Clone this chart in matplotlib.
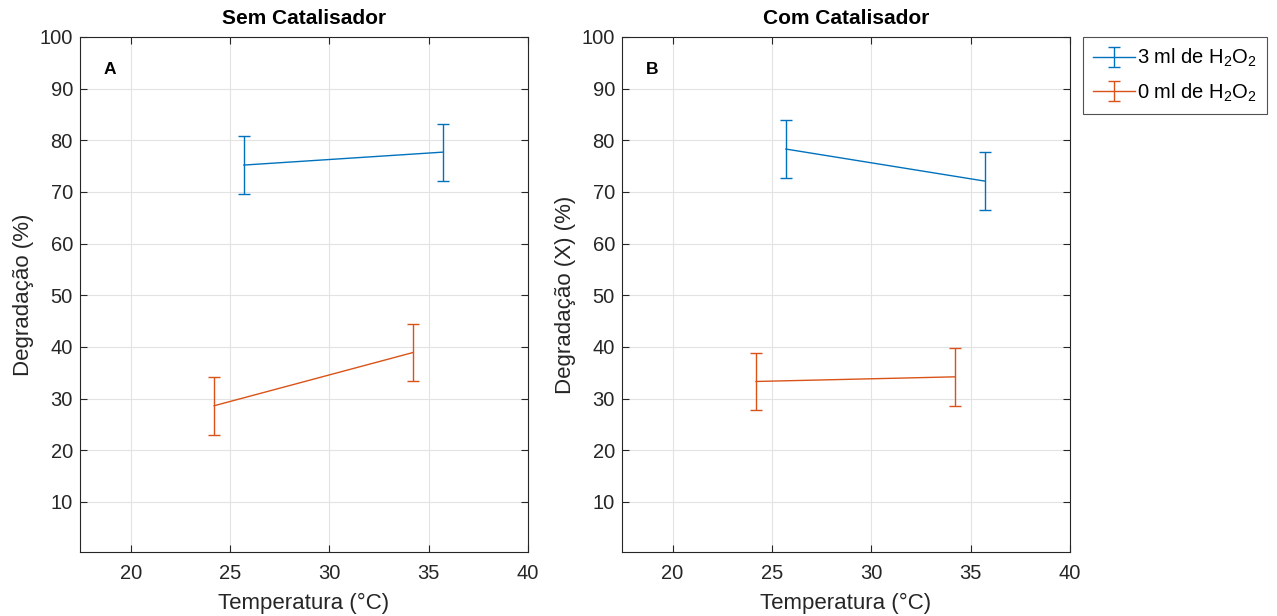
import matplotlib.pyplot as plt

plt.rcParams['font.family'] = ['Liberation Sans', 'DejaVu Sans']
plt.rcParams['mathtext.fontset'] = 'custom'
plt.rcParams['mathtext.rm'] = 'Liberation Sans'
plt.rcParams['mathtext.it'] = 'Liberation Sans'
plt.rcParams['mathtext.default'] = 'regular'

# temperatures (°C)
temp_3ml = [25.7, 35.7]
temp_0ml = [24.2, 34.2]

# panel A - sem catalisador
sem_3ml = [75.2, 77.7]
sem_3ml_err = [5.6, 5.5]
sem_0ml = [28.6, 38.9]
sem_0ml_err = [5.6, 5.6]

# panel B - com catalisador
com_3ml = [78.3, 72.1]
com_3ml_err = [5.6, 5.6]
com_0ml = [33.3, 34.2]
com_0ml_err = [5.6, 5.6]

BLUE = '#0072BD'
ORANGE = '#D95319'
AXC = '#262626'


def style_axes(ax, title, letter, ylabel):
    ax.set_xlim(17.45, 40)
    ax.set_ylim(0.3, 100)
    ax.set_xticks([20, 25, 30, 35, 40])
    ax.set_yticks(range(10, 101, 10))
    ax.grid(True, color='#e3e3e3', linewidth=0.8)
    ax.set_axisbelow(True)
    ax.tick_params(direction='in', length=5, width=0.8, labelsize=14.5,
                   colors=AXC, top=True, right=True, pad=5)
    ax.tick_params(axis='x', pad=9)
    for s in ax.spines.values():
        s.set_color(AXC)
        s.set_linewidth(0.8)
    ax.set_title(title, fontsize=15, fontweight='bold', color='black', pad=9)
    ax.set_xlabel('Temperatura (°C)', fontsize=16, color=AXC, labelpad=7)
    ax.set_ylabel(ylabel, fontsize=16, color=AXC, labelpad=4)
    ax.text(0.053, 0.936, letter, transform=ax.transAxes, fontsize=12.5,
            fontweight='bold', va='center', ha='left')


fig = plt.figure(figsize=(12.77, 6.16), dpi=100)
axA = fig.add_axes([0.0626, 0.104, 0.351, 0.836])
axB = fig.add_axes([0.487, 0.104, 0.351, 0.836])

kw = dict(capsize=4, linewidth=1, elinewidth=1, capthick=1)
h1 = axA.errorbar(temp_3ml, sem_3ml, yerr=sem_3ml_err, color=BLUE, **kw)
h2 = axA.errorbar(temp_0ml, sem_0ml, yerr=sem_0ml_err, color=ORANGE, **kw)
axB.errorbar(temp_3ml, com_3ml, yerr=com_3ml_err, color=BLUE, **kw)
axB.errorbar(temp_0ml, com_0ml, yerr=com_0ml_err, color=ORANGE, **kw)

style_axes(axA, 'Sem Catalisador', 'A', 'Degradação (%)')
style_axes(axB, 'Com Catalisador', 'B', 'Degradação (X) (%)')

leg = fig.legend([h1, h2], ['3 ml de H$_2$O$_2$', '0 ml de H$_2$O$_2$'],
                 loc='upper left', bbox_to_anchor=(0.848, 0.94),
                 fontsize=14.5, frameon=True, fancybox=False,
                 handlelength=2.1, handletextpad=0.1, borderpad=0.5,
                 labelspacing=0.6, borderaxespad=0)
leg.get_frame().set_edgecolor(AXC)
leg.get_frame().set_linewidth(0.8)

fig.savefig('out.png', dpi=100)
